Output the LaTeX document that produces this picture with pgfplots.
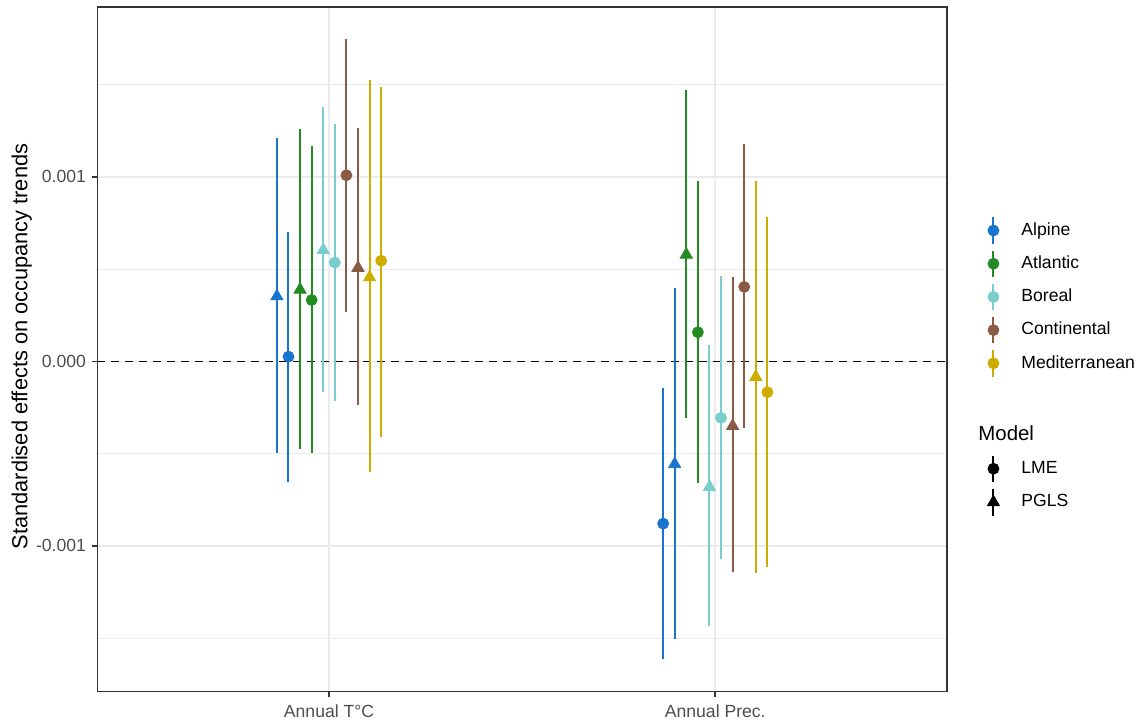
\documentclass[border=0pt]{standalone}
\usepackage{fontspec}
\setmainfont{Liberation Sans}
\usepackage{pgfplots}
\pgfplotsset{compat=1.18}
\usepackage{pgfplotstable}

\definecolor{alp}{HTML}{1874CD}
\definecolor{atl}{HTML}{228B22}
\definecolor{bor}{HTML}{79CDCD}
\definecolor{con}{HTML}{8B5A45}
\definecolor{med}{HTML}{CDAD00}
\definecolor{grid92}{HTML}{EBEBEB}
\definecolor{g20}{HTML}{333333}
\definecolor{g30}{HTML}{4D4D4D}

% x = category position (1 = Annual T°C, 2 = Annual Prec.) + dodge
\pgfplotstableread{
x y lo hi
0.895 0.000026 -0.000655 0.000700
1.865 -0.000879 -0.001614 -0.000145
}\alpLME
\pgfplotstableread{
x y lo hi
0.865 0.000353 -0.000498 0.001210
1.895 -0.000557 -0.001506 0.000397
}\alpPGLS
\pgfplotstableread{
x y lo hi
0.955 0.000333 -0.000498 0.001170
1.955 0.000158 -0.000660 0.000977
}\atlLME
\pgfplotstableread{
x y lo hi
0.925 0.000389 -0.000476 0.001258
1.925 0.000579 -0.000305 0.001472
}\atlPGLS
\pgfplotstableread{
x y lo hi
1.015 0.000536 -0.000212 0.001286
2.015 -0.000306 -0.001072 0.000465
}\borLME
\pgfplotstableread{
x y lo hi
0.985 0.000604 -0.000163 0.001378
1.985 -0.000680 -0.001434 0.000088
}\borPGLS
\pgfplotstableread{
x y lo hi
1.045 0.001009 0.000267 0.001750
2.075 0.000404 -0.000359 0.001177
}\conLME
\pgfplotstableread{
x y lo hi
1.075 0.000507 -0.000236 0.001264
2.045 -0.000350 -0.001141 0.000460
}\conPGLS
\pgfplotstableread{
x y lo hi
1.135 0.000546 -0.000407 0.001488
2.135 -0.000167 -0.001112 0.000785
}\medLME
\pgfplotstableread{
x y lo hi
1.105 0.000456 -0.000601 0.001526
2.105 -0.000084 -0.001148 0.000977
}\medPGLS

\pgfplotsset{
  pr/.style={
    error bars/.cd, y dir=both, y explicit, error mark=none,
    error bar style={line width=1pt, color=#1},
    /pgfplots/.cd, only marks, color=#1, forget plot},
  lme/.style={mark=*, mark size=2.75pt},
  pgls/.style={mark=triangle*, mark size=3.5pt},
  regkey/.style={legend image code/.code={
      \draw[line width=1pt] (0pt,-6.6pt) -- (0pt,6.6pt);
      \fill (0pt,0pt) circle (2.75pt);
      \path[draw=none, fill=none] (-7pt,-8.3pt) rectangle (12pt,8.3pt);}},
  lmekey/.style={legend image code/.code={
      \draw[line width=1pt] (0pt,-6.6pt) -- (0pt,6.6pt);
      \fill (0pt,0pt) circle (2.75pt);
      \path[draw=none, fill=none] (-7pt,-8.4pt) rectangle (12pt,8.4pt);}},
  pglskey/.style={legend image code/.code={
      \draw[line width=1pt] (0pt,-6.6pt) -- (0pt,6.6pt);
      \fill (0pt,3.5pt) -- (-3.03pt,-1.75pt) -- (3.03pt,-1.75pt) -- cycle;
      \path[draw=none, fill=none] (-7pt,-8.4pt) rectangle (12pt,8.4pt);}},
  mylegend/.style={legend cell align=left,
    legend style={anchor=north west, draw=none, fill=none, inner sep=0pt,
      row sep=0pt, font=\fontsize{8.8}{10.5}\selectfont,
      nodes={inner sep=2pt, text=black}}},
}

\begin{document}
\begin{tikzpicture}
\useasboundingbox (0,0) rectangle (569.5pt,362pt);
\begin{axis}[
  scale only axis, width=424.85pt, height=342.25pt,
  at={(48.65pt,16.25pt)}, anchor=south west,
  xmin=0.4, xmax=2.6, ymin=-0.001789, ymax=0.001921,
  xtick={1,2}, xticklabels={Annual T°C, Annual Prec.},
  ytick={-0.001,0,0.001}, yticklabels={-0.001,0.000,0.001},
  minor ytick={-0.0015,-0.0005,0.0005,0.0015},
  scaled y ticks=false,
  xmajorgrids, ymajorgrids, yminorgrids,
  major grid style={color=grid92, line width=0.8pt},
  minor grid style={color=grid92, line width=0.45pt},
  minor tick length=0pt,
  tick align=outside, major tick length=2.75pt,
  xtick pos=bottom, ytick pos=left,
  tick style={color=g20, line width=0.8pt},
  axis line style={color=g20, line width=0.8pt},
  ticklabel style={font=\fontsize{8.8}{10.5}\selectfont, text=g30},
  yticklabel style={xshift=0.6pt},
  xticklabel style={yshift=-0.3pt},
  ylabel={Standardised effects on occupancy trends},
  ylabel style={at={(axis description cs:-0.0888,0.504)}, anchor=center,
    font=\fontsize{10.9}{13}\selectfont},
  mylegend,
  legend style={at={(axis description cs:1.0377,0.6983)}},
]
\addplot[black, dash pattern=on 4pt off 3pt, line width=0.6pt, forget plot] coordinates {(0.4,0) (2.6,0)};

\addplot[pr=alp, pgls] table[x=x, y=y, y error plus expr=\thisrow{hi}-\thisrow{y}, y error minus expr=\thisrow{y}-\thisrow{lo}] {\alpPGLS};
\addplot[pr=alp, lme] table[x=x, y=y, y error plus expr=\thisrow{hi}-\thisrow{y}, y error minus expr=\thisrow{y}-\thisrow{lo}] {\alpLME};
\addplot[pr=atl, pgls] table[x=x, y=y, y error plus expr=\thisrow{hi}-\thisrow{y}, y error minus expr=\thisrow{y}-\thisrow{lo}] {\atlPGLS};
\addplot[pr=atl, lme] table[x=x, y=y, y error plus expr=\thisrow{hi}-\thisrow{y}, y error minus expr=\thisrow{y}-\thisrow{lo}] {\atlLME};
\addplot[pr=bor, pgls] table[x=x, y=y, y error plus expr=\thisrow{hi}-\thisrow{y}, y error minus expr=\thisrow{y}-\thisrow{lo}] {\borPGLS};
\addplot[pr=bor, lme] table[x=x, y=y, y error plus expr=\thisrow{hi}-\thisrow{y}, y error minus expr=\thisrow{y}-\thisrow{lo}] {\borLME};
\addplot[pr=con, pgls] table[x=x, y=y, y error plus expr=\thisrow{hi}-\thisrow{y}, y error minus expr=\thisrow{y}-\thisrow{lo}] {\conPGLS};
\addplot[pr=con, lme] table[x=x, y=y, y error plus expr=\thisrow{hi}-\thisrow{y}, y error minus expr=\thisrow{y}-\thisrow{lo}] {\conLME};
\addplot[pr=med, pgls] table[x=x, y=y, y error plus expr=\thisrow{hi}-\thisrow{y}, y error minus expr=\thisrow{y}-\thisrow{lo}] {\medPGLS};
\addplot[pr=med, lme] table[x=x, y=y, y error plus expr=\thisrow{hi}-\thisrow{y}, y error minus expr=\thisrow{y}-\thisrow{lo}] {\medLME};

\addlegendimage{alp, regkey}\addlegendentry{Alpine}
\addlegendimage{atl, regkey}\addlegendentry{Atlantic}
\addlegendimage{bor, regkey}\addlegendentry{Boreal}
\addlegendimage{con, regkey}\addlegendentry{Continental}
\addlegendimage{med, regkey}\addlegendentry{Mediterranean}
\end{axis}

\begin{axis}[
  scale only axis, width=424.85pt, height=342.25pt,
  at={(48.65pt,16.25pt)}, anchor=south west,
  hide axis, xmin=0, xmax=1, ymin=0, ymax=1,
  mylegend,
  legend style={at={(axis description cs:1.0377,0.3506)}},
]
\addlegendimage{black, lmekey}\addlegendentry{LME}
\addlegendimage{black, pglskey}\addlegendentry{PGLS}
\end{axis}

\node[anchor=west, inner sep=0pt, font=\fontsize{10.2}{12}\selectfont] at (489pt,145.5pt) {Model};
\end{tikzpicture}
\end{document}
